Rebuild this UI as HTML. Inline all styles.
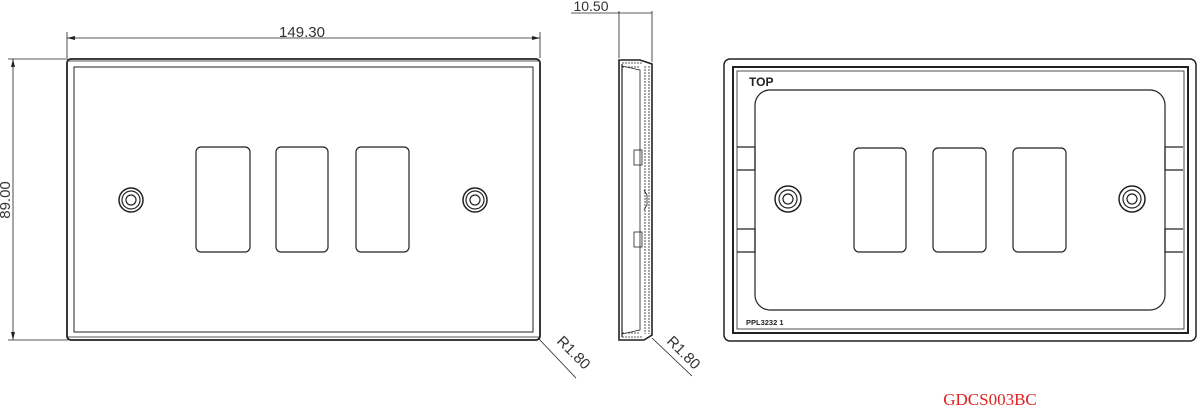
<!DOCTYPE html>
<html><head><style>body{margin:0;background:#fff;width:1200px;height:409px;overflow:hidden}svg{display:block}</style></head><body>
<svg width="1200" height="409" viewBox="0 0 1200 409" xmlns="http://www.w3.org/2000/svg" fill="none" stroke="#222" stroke-width="1.2">
<!-- front view -->
<line x1="67" y1="32" x2="67" y2="58" stroke-width="0.8"/>
<line x1="540" y1="32" x2="540" y2="58" stroke-width="0.8"/>
<line x1="67" y1="38" x2="540" y2="38" stroke-width="0.8"/>
<path d="M67 38l8-2v4zM540 38l-8-2v4z" fill="#222" stroke="none"/>
<text x="302" y="37" font-family="Liberation Sans,sans-serif" font-size="15" fill="#333" stroke="none" text-anchor="middle">149.30</text>
<line x1="8" y1="59" x2="68" y2="59" stroke-width="0.8"/>
<line x1="8" y1="340" x2="68" y2="340" stroke-width="0.8"/>
<line x1="13" y1="59" x2="13" y2="340" stroke-width="0.8"/>
<path d="M13 59l-2 8h4zM13 340l-2-8h4z" fill="#222" stroke="none"/>
<text transform="translate(10,200) rotate(-90)" font-family="Liberation Sans,sans-serif" font-size="15" fill="#333" stroke="none" text-anchor="middle">89.00</text>
<rect x="67" y="59" width="473" height="281" rx="4" stroke-width="1.8"/>
<rect x="74" y="67" width="459" height="265" stroke-width="1"/>
<line x1="67" y1="61" x2="540" y2="61" stroke-width="0.8"/>
<line x1="67" y1="337" x2="540" y2="337" stroke-width="0.8"/>
<rect x="196" y="147" width="54" height="105" rx="5"/>
<rect x="276" y="147" width="52" height="105" rx="5"/>
<rect x="356" y="147" width="53" height="105" rx="5"/>
<circle cx="131" cy="200" r="12" stroke-width="1.5"/><circle cx="131" cy="200" r="9"/><circle cx="131" cy="200" r="5"/>
<circle cx="475" cy="200" r="12" stroke-width="1.5"/><circle cx="475" cy="200" r="9"/><circle cx="475" cy="200" r="5"/>
<line x1="538" y1="338" x2="576" y2="378" stroke-width="0.8"/>
<text transform="translate(556,342) rotate(45)" font-family="Liberation Sans,sans-serif" font-size="15" fill="#333" stroke="none">R1.80</text>
<!-- side view -->
<line x1="571" y1="13" x2="652" y2="13" stroke-width="0.8"/>
<line x1="619" y1="11" x2="619" y2="58" stroke-width="0.8"/>
<line x1="652" y1="11" x2="652" y2="62" stroke-width="0.8"/>
<text x="591" y="11" font-family="Liberation Sans,sans-serif" font-size="14" fill="#333" stroke="none" text-anchor="middle">10.50</text>
<path d="M619 60L640 60L652 64L652 335L644 340L619 340Z" stroke-width="1.6"/>
<line x1="622" y1="64" x2="622" y2="337"/>
<path d="M622 66L640 70L640 330L622 334" stroke-width="0.8"/>
<line x1="645" y1="66" x2="645" y2="334" stroke-width="0.8" stroke-dasharray="2 1"/>
<line x1="649" y1="66" x2="649" y2="334" stroke-width="0.8" stroke-dasharray="2 1"/>
<path d="M622 63h20M622 67h18M622 333h18M622 337h20" stroke-width="0.8" stroke-dasharray="2 1"/>
<rect x="634" y="150" width="8" height="15" stroke-width="0.8"/>
<rect x="634" y="232" width="8" height="15" stroke-width="0.8"/>
<path d="M644 190l3 5v10l-3 5" stroke-width="0.8"/>
<line x1="652" y1="338" x2="692" y2="376" stroke-width="0.8"/>
<text transform="translate(666,342) rotate(45)" font-family="Liberation Sans,sans-serif" font-size="15" fill="#333" stroke="none">R1.80</text>
<!-- rear view -->
<rect x="724" y="59" width="472" height="282" rx="6" stroke-width="1.5"/>
<rect x="733" y="67" width="455" height="266" stroke-width="2"/>
<rect x="737" y="71" width="447" height="258" stroke-width="0.8"/>
<rect x="755" y="90" width="410" height="220" rx="15"/>
<path d="M737 147h18v23h-18M737 229h18v23h-18M1183 147h-18v23h18M1183 229h-18v23h18"/>
<rect x="854" y="148" width="52" height="104" rx="5"/>
<rect x="933" y="148" width="53" height="104" rx="5"/>
<rect x="1013" y="148" width="53" height="104" rx="5"/>
<circle cx="788" cy="199" r="13" stroke-width="1.5"/><circle cx="788" cy="199" r="9"/><circle cx="788" cy="199" r="5"/>
<circle cx="1132" cy="199" r="13" stroke-width="1.5"/><circle cx="1132" cy="199" r="9"/><circle cx="1132" cy="199" r="5"/>
<text x="749" y="86" font-family="Liberation Sans,sans-serif" font-size="12" font-weight="bold" fill="#222" stroke="none">TOP</text>
<text x="746" y="325" font-family="Liberation Sans,sans-serif" font-size="7.5" font-weight="bold" fill="#222" stroke="none">PPL3232  1</text>
<text x="990" y="405" font-family="Liberation Serif,serif" font-size="17" fill="#e02020" stroke="none" text-anchor="middle">GDCS003BC</text>
</svg>
</body></html>
